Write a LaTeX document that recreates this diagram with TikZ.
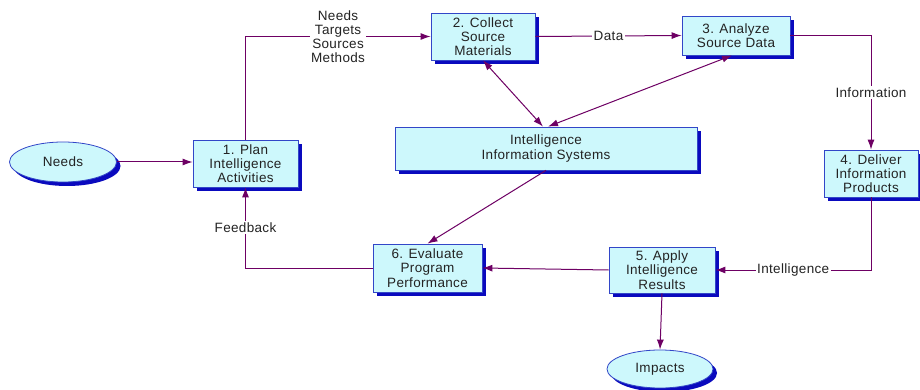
\documentclass[tikz,border=0pt]{standalone}
\usepackage{fontspec}
\setmainfont{Liberation Sans}[LetterSpace=2.5]
\usetikzlibrary{arrows.meta,shadows,shapes.geometric}
\definecolor{boxfill}{RGB}{205,248,252}
\definecolor{boxdraw}{RGB}{50,70,200}
\definecolor{shadowblue}{RGB}{10,10,190}
\definecolor{linkc}{RGB}{110,0,100}
\definecolor{txt}{RGB}{35,35,35}
\begin{document}
\begin{tikzpicture}[x=1pt,y=-1pt,
  basefont/.style={font=\fontsize{13.5}{14.2}\selectfont, text=txt},
  shade/.style={drop shadow={fill=shadowblue, opacity=1, shadow xshift=4pt, shadow yshift=-4pt}},
  proc/.style={basefont, shade, draw=boxdraw, line width=0.8pt, fill=boxfill, align=center, inner sep=2pt},
  term/.style={basefont, shade, ellipse, draw=boxdraw, line width=0.8pt, fill=boxfill, inner sep=0pt},
  flow/.style={draw=linkc, line width=1pt, -{Latex[length=10pt,width=7pt]}},
  both/.style={draw=linkc, line width=1pt, {Latex[length=10pt,width=7pt]}-{Latex[length=10pt,width=7pt]}},
  lbl/.style={basefont, fill=white, inner sep=1.5pt, align=center}]
\useasboundingbox (0,0) rectangle (920,390);
\fill[white] (0,0) rectangle (920,390);

\node[term, minimum width=107pt, minimum height=40pt] (needs) at (63,162) {Needs};
\node[term, minimum width=106pt, minimum height=38pt] (impacts) at (660,369) {Impacts};

\node[proc, minimum width=105pt, minimum height=47pt] (b1) at (245.5,163.5) {1. Plan\\Intelligence\\Activities};
\node[proc, minimum width=104pt, minimum height=47pt] (b2) at (483,36.5) {2. Collect\\Source\\Materials};
\node[proc, minimum width=108pt, minimum height=39pt] (b3) at (736,35.5) {3. Analyze\\Source Data};
\node[proc, minimum width=94pt, minimum height=47pt] (b4) at (871,173.5) {4. Deliver\\Information\\Products};
\node[proc, minimum width=302pt, minimum height=43pt] (iis) at (546,148.5) {Intelligence\\Information Systems};
\node[proc, minimum width=106pt, minimum height=46pt] (b5) at (662,270) {5. Apply\\Intelligence\\Results};
\node[proc, minimum width=109pt, minimum height=48pt] (b6) at (427.5,268) {6. Evaluate\\Program\\Performance};

\draw[flow] (needs.east) -- (needs.east -| b1.west);
\draw[flow] (b1.north) |- node[lbl, pos=0.75] {Needs\\Targets\\Sources\\Methods} (b2.west);
\draw[flow] (b2.east) -- node[lbl] {Data} (b3.west);
\draw[flow] (b3.east) -| node[lbl, pos=0.75] {Information} (b4.north);
\draw[flow] (b4.south) |- node[lbl, pos=0.75] {Intelligence} (b5.east);
\draw[flow] (b5.west) -- (b6.east);
\draw[flow] (b5.south) -- (impacts.north);
\draw[flow] (b6.west) -| node[lbl, pos=0.75] {Feedback} (b1.south);
\draw[flow] (iis.south) -- (b6.north);
\draw[both] (b2.south) -- ([xshift=-3pt]iis.north);
\draw[both] ([xshift=-4pt]b3.south) -- ([xshift=2pt]iis.north);
\end{tikzpicture}
\end{document}
